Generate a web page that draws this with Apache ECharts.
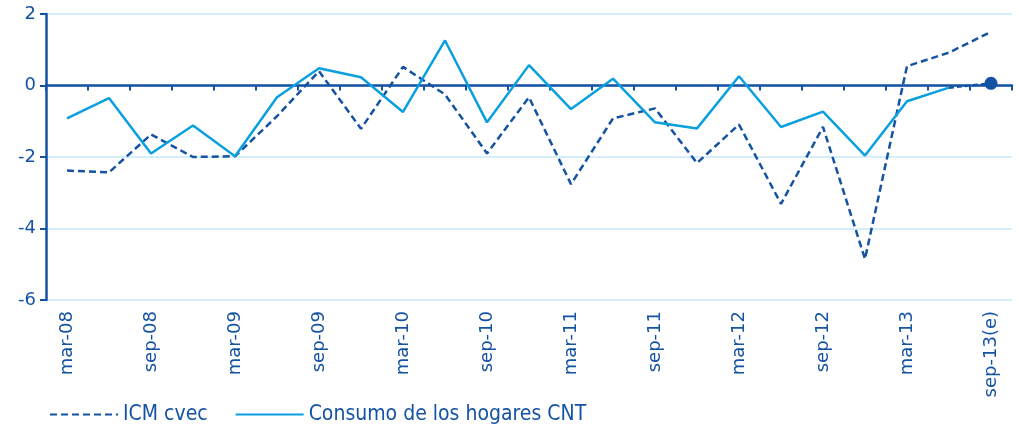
<!DOCTYPE html>
<html>
<head>
<meta charset="utf-8">
<script src="https://cdn.jsdelivr.net/npm/echarts@6/dist/echarts.min.js"></script>
<style>
  html, body { margin: 0; padding: 0; background: #fff; }
  #chart { width: 1019px; height: 432px; }
</style>
</head>
<body>
<div id="chart"></div>
<script>
// trimestres
const categories = [
  'mar-08', 'jun-08', 'sep-08', 'dic-08',
  'mar-09', 'jun-09', 'sep-09', 'dic-09',
  'mar-10', 'jun-10', 'sep-10', 'dic-10',
  'mar-11', 'jun-11', 'sep-11', 'dic-11',
  'mar-12', 'jun-12', 'sep-12', 'dic-12',
  'mar-13', 'jun-13', 'sep-13(e)'
]
const icmCvec = [
  -2.38, -2.43, -1.37, -2.0, -1.98, -0.86, 0.4, -1.21, 0.52, -0.25, -1.9, -0.33,
  -2.76, -0.92, -0.64, -2.17, -1.09, -3.31, -1.16, -4.85, 0.54, 0.92, 1.5
]
const consumoCnt = [
  -0.92, -0.35, -1.9, -1.12, -1.98, -0.33, 0.48, 0.23, -0.74, 1.26, -1.03, 0.57,
  -0.66, 0.19, -1.03, -1.2, 0.26, -1.16, -0.73, -1.96, -0.44, -0.06, null
]
// tramo estimado
const consumoEst = [
  null, null, null, null, null, null, null, null, null, null, null, null,
  null, null, null, null, null, null, null, null, null, -0.06, 0.06
]
const yTicks = { min: -6, max: 2, interval: 2 }

const dark = '#1452a3'
const light = '#0aa0e0'
const font = 'DejaVu Sans'

const chart = echarts.init(document.getElementById('chart'))
chart.setOption({
  animation: false,
  grid: { left: 46, right: 7, top: 14, bottom: 132 },
  legend: {
    left: 44,
    top: 399,
    itemWidth: 68,
    itemHeight: 14,
    itemGap: 27,
    itemTextGap: 8,
    itemStyle: { opacity: 0 },
    textStyle: { color: dark, fontSize: 21, fontFamily: 'DejaVu Sans Condensed' },
    data: ['ICM cvec', 'Consumo de los hogares CNT']
  },
  xAxis: [
    {
      type: 'category',
      data: categories,
      position: 'bottom',
      axisLine: { show: false, onZero: false },
      axisTick: { show: false },
      axisLabel: {
        interval: 1,
        rotate: 90,
        margin: 11,
        color: dark,
        fontSize: 18,
        fontFamily: font
      }
    },
    {
      type: 'category',
      data: categories,
      position: 'bottom',
      axisLine: { onZero: true, onZeroAxisIndex: 0, lineStyle: { color: dark, width: 2.5 } },
      axisTick: { show: true, interval: 0, inside: false, length: 5, lineStyle: { color: dark, width: 2 } },
      axisLabel: { show: false }
    }
  ],
  yAxis: {
    type: 'value',
    min: yTicks.min,
    max: yTicks.max,
    interval: yTicks.interval,
    axisLine: { show: true, lineStyle: { color: dark, width: 2.5 } },
    axisTick: { show: true, length: 6, lineStyle: { color: dark, width: 2 } },
    axisLabel: { color: dark, fontSize: 18, fontFamily: font, margin: 10 },
    splitLine: { lineStyle: { color: '#c6e9f8', width: 1.5 } }
  },
  series: [
    {
      name: 'ICM cvec',
      type: 'line',
      data: icmCvec,
      symbol: 'none',
      z: 3,
      itemStyle: { color: dark },
      lineStyle: { color: dark, width: 2.5, type: [7, 4] }
    },
    {
      name: 'Consumo de los hogares CNT',
      type: 'line',
      data: consumoCnt,
      symbol: 'none',
      z: 4,
      itemStyle: { color: light },
      lineStyle: { color: light, width: 2.5 }
    },
    {
      name: 'estimado',
      type: 'line',
      data: consumoEst,
      symbol: (v, p) => p.dataIndex === consumoEst.length - 1 ? 'circle' : 'none',
      symbolSize: 13,
      z: 5,
      itemStyle: { color: dark },
      lineStyle: { color: dark, width: 2.5, type: [5, 3] }
    }
  ]
})
</script>
</body>
</html>
